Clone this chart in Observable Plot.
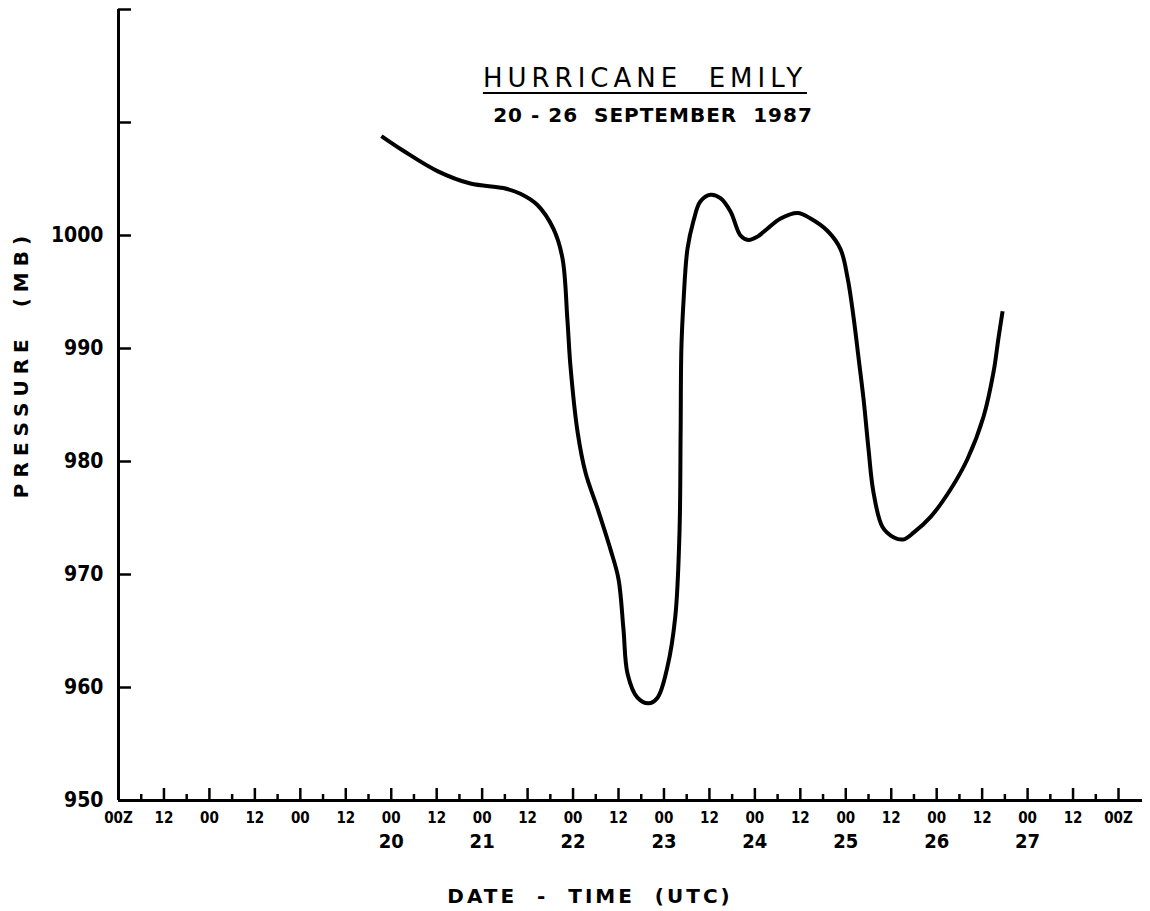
<!DOCTYPE html>
<html><head><meta charset="utf-8">
<script src="https://cdn.jsdelivr.net/npm/d3@7"></script>
<script src="https://cdn.jsdelivr.net/npm/@observablehq/plot@0.6"></script>
<style>
body{margin:0;background:#fff;}
#wrap{position:relative;width:1150px;height:911px;font-family:"DejaVu Sans",sans-serif;color:#000;}
.ov{position:absolute;white-space:pre;line-height:1;color:#000;}
svg text{font-stretch:condensed;}
</style></head><body><div id="wrap"></div>
<script>
// ---- data ----
const axisStart = "1987-09-17T00:00Z";
const lastTick = "1987-09-28T00:00Z";
const axisEnd = "1987-09-28T06:20Z";
// hours after 17 Sep 1987 00Z
const hoursFromStart = [69.4, 75.2, 84.2, 92.9, 101.6, 106.1, 110.6, 114.8, 117.2, 118.5, 119.3, 121.2, 123.3, 126.5, 129.9, 132.0, 133.3, 134.4, 137.0, 139.9, 142.3, 144.9, 147.0, 148.1, 148.4, 148.6, 149.2, 150.2, 151.8, 153.6, 156.3, 158.9, 161.6, 164.2, 166.3, 168.7, 171.3, 174.8, 179.3, 182.7, 187.2, 190.6, 192.5, 194.0, 195.4, 196.7, 198.0, 199.3, 201.7, 204.6, 207.2, 209.9, 214.4, 219.6, 224.1, 228.4, 231.0, 232.3, 233.4];
const pressureMb = [1008.8, 1007.5, 1005.7, 1004.6, 1004.2, 1003.7, 1002.7, 1000.6, 998.0, 992.6, 988.5, 982.6, 979.0, 975.8, 972.2, 969.6, 965.2, 961.2, 959.1, 958.6, 959.1, 961.8, 966.3, 973.7, 982.6, 990.0, 994.4, 998.8, 1001.3, 1003.0, 1003.6, 1003.3, 1002.1, 1000.0, 999.6, 999.9, 1000.6, 1001.5, 1002.0, 1001.5, 1000.4, 998.8, 996.2, 992.9, 989.1, 985.5, 981.1, 977.3, 974.2, 973.3, 973.1, 973.7, 975.1, 977.5, 980.2, 984.0, 987.9, 990.9, 993.3];
const yDomain = [950, 1020];
const yTickValues = [960, 970, 980, 990, 1000, 1010, 1020];
const yLabelValues = [950, 960, 970, 980, 990, 1000];
const timeTickLabels = ["00Z","12","00","12","00","12","00","12","00","12","00","12","00","12","00","12","00","12","00","12","00","12","00Z"];
const dayLabels = [20, 21, 22, 23, 24, 25, 26, 27];
const titleText = "HURRICANE  EMILY";
const subtitleText = "20 - 26  SEPTEMBER  1987";
const xLabelText = "DATE  -  TIME  (UTC)";
const yLabelText = "PRESSURE  (MB)";

// ---- build ----
const t0 = new Date(axisStart);
const series = hoursFromStart.map((h, i) => ({time: new Date(t0.getTime() + h * 3600e3), p: pressureMb[i]}));
const majorTicks = d3.utcHour.every(12).range(t0, d3.utcHour.offset(new Date(lastTick), 1));
const minorTicks = d3.utcHour.every(6).range(t0, new Date(lastTick)).filter(d => d.getUTCHours() % 12 !== 0);
const labelByTime = new Map(majorTicks.map((d, i) => [+d, timeTickLabels[i]]));
const dayTicks = dayLabels.map(d => new Date(Date.UTC(1987, 8, d)));

const W = 1150, H = 911, mL = 118, mR = 8, mT = 9, mB = 111;
const plotW = W - mL - mR, plotH = H - mT - mB;
const font = "'DejaVu Sans Condensed', 'DejaVu Sans', sans-serif";

const chart = Plot.plot({
  width: W, height: H,
  marginLeft: mL, marginRight: mR, marginTop: mT, marginBottom: mB,
  style: {fontFamily: font, color: "#000", background: "transparent", overflow: "visible"},
  x: {type: "utc", domain: [t0, new Date(axisEnd)]},
  y: {domain: yDomain},
  marks: [
    Plot.ruleX([t0], {x: d => d, strokeWidth: 3}),
    Plot.ruleY([yDomain[0]], {y: d => d, strokeWidth: 3}),
    Plot.tickY(yTickValues, {y: d => d, insetRight: plotW - 13, strokeWidth: 2.5}),
    Plot.tickX(majorTicks, {x: d => d, insetTop: plotH - 12, strokeWidth: 2.5}),
    Plot.tickX(minorTicks, {x: d => d, insetTop: plotH - 6, strokeWidth: 2.5}),
    Plot.axisY({ticks: yLabelValues, tickSize: 0, tickPadding: 15, fontSize: 21, fontWeight: "bold", label: null, tickFormat: d => String(d)}),
    Plot.axisX({ticks: majorTicks, tickSize: 0, tickPadding: 12, fontSize: 15, fontWeight: "bold", label: null, tickFormat: d => labelByTime.get(+d)}),
    Plot.axisX({ticks: dayTicks, tickSize: 0, tickPadding: 33, fontSize: 20, fontWeight: "bold", label: null, tickFormat: d => String(d.getUTCDate())}),
    Plot.line(series, {x: "time", y: "p", curve: "catmull-rom", strokeWidth: 4, strokeLinecap: "butt"})
  ]
});
const wrap = document.getElementById("wrap");
wrap.appendChild(chart);

function overlay(text, css) {
  const el = document.createElement("div");
  el.className = "ov";
  el.textContent = text;
  Object.assign(el.style, css);
  wrap.appendChild(el);
  return el;
}
overlay(titleText, {left: "645px", top: "65px", fontSize: "26px", letterSpacing: "5px", transform: "translateX(-50%)", borderBottom: "2px solid #000", paddingBottom: "1px"});
overlay(subtitleText, {left: "653px", top: "105px", fontSize: "20px", fontWeight: "bold", letterSpacing: "1px", transform: "translateX(-50%)"});
overlay(xLabelText, {left: "590px", top: "886px", fontSize: "20px", fontWeight: "bold", letterSpacing: "3px", transform: "translateX(-50%)"});
overlay(yLabelText, {left: "21px", top: "364px", fontSize: "20px", fontWeight: "bold", letterSpacing: "6px", transform: "translate(-50%,-50%) rotate(-90deg)"});
</script>
</body></html>
